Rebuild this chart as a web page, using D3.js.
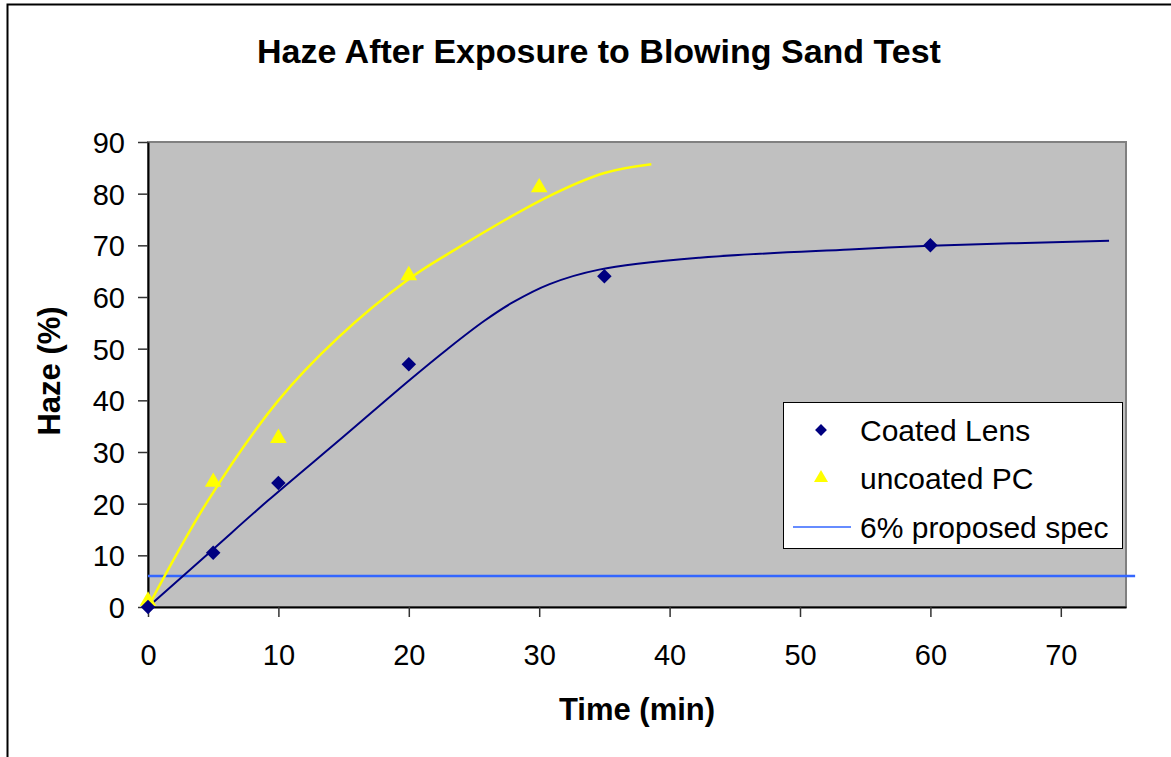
<!DOCTYPE html>
<html>
<head>
<meta charset="utf-8">
<script src="https://cdn.jsdelivr.net/npm/d3@7"></script>
<style>
  html, body { margin: 0; padding: 0; background: #fff; overflow: hidden; }
  svg { display: block; font-family: "Liberation Sans", Arial, sans-serif; }
</style>
</head>
<body>
<div id="chart"></div>
<script>
// measured points
const coatedTime = [0, 5, 10, 20, 35, 60];
const coatedHaze = [0, 10.5, 24, 47, 64, 70];
const uncoatedTime = [0, 5, 10, 20, 30];
const uncoatedHaze = [1, 24, 32.5, 64, 81];

// trend curves
const coatedTrendTime = [0, 5, 9.2, 15, 20, 23, 25.8, 28, 30.8, 34.6, 42.3, 53.8, 60, 73.7];
const coatedTrendHaze = [0, 11.2, 20.6, 33, 43.8, 50, 55.4, 59, 62.5, 65.3, 67.6, 69.2, 69.9, 70.9];
const uncoatedTrendTime = [0, 4.6, 10, 14.6, 19.9, 23.1, 30.5, 35, 38.6];
const uncoatedTrendHaze = [0, 20.6, 40, 52.2, 63.3, 68.5, 79.2, 84, 85.7];

const specTime = [0, 75.7];
const specHaze = [6, 6];

const xTicks = [0, 10, 20, 30, 40, 50, 60, 70];
const yTicks = [0, 10, 20, 30, 40, 50, 60, 70, 80, 90];

const legendLabels = ['Coated Lens', 'uncoated PC', '6% proposed spec'];

const W = 1171, H = 757;
const margin = {top: 142, right: 45, bottom: 150, left: 148};
const plotW = 1126 - margin.left;
const plotH = 607 - margin.top;

const navy = '#000080', yellow = '#FFFF00', specBlue = '#3366FF';

const svg = d3.select('#chart')
  .append('svg')
  .attr('width', W)
  .attr('height', H);

// outer chart frame
svg.append('rect')
  .attr('x', 7.5).attr('y', 4.5)
  .attr('width', W + 20).attr('height', H + 20)
  .attr('fill', '#fff')
  .attr('stroke', '#000')
  .attr('stroke-width', 2);

svg.append('text')
  .attr('x', 599).attr('y', 63)
  .attr('text-anchor', 'middle')
  .attr('font-weight', 'bold')
  .attr('font-size', 34)
  .text('Haze After Exposure to Blowing Sand Test');

const g = svg.append('g')
  .attr('transform', `translate(${margin.left},${margin.top})`);

const x = d3.scaleLinear().domain([0, 75]).range([0, plotW]);
const y = d3.scaleLinear().domain([0, 90]).range([plotH, 0]);

// plot area
g.append('rect')
  .attr('width', plotW).attr('height', plotH)
  .attr('fill', '#C0C0C0')
  .attr('stroke', '#808080')
  .attr('stroke-width', 2);

// axes
const xAxis = g.append('g')
  .attr('transform', `translate(0,${plotH})`)
  .call(d3.axisBottom(x).tickValues(xTicks).tickSize(10).tickSizeOuter(0));
const yAxis = g.append('g')
  .call(d3.axisLeft(y).tickValues(yTicks).tickSize(10).tickSizeOuter(0));

[xAxis, yAxis].forEach(a => {
  a.select('.domain').attr('stroke', '#000').attr('stroke-width', 2);
  a.selectAll('.tick line').attr('stroke', '#333').attr('stroke-width', 1.5);
  a.selectAll('.tick text')
    .attr('font-family', '"Liberation Sans", Arial, sans-serif')
    .attr('font-size', 29)
    .attr('fill', '#000');
});
yAxis.selectAll('.tick text').attr('x', -23).attr('dy', '0.36em');
xAxis.selectAll('.tick text').attr('y', 58).attr('dy', 0);

svg.append('text')
  .attr('x', 637).attr('y', 720)
  .attr('text-anchor', 'middle')
  .attr('font-weight', 'bold')
  .attr('font-size', 31)
  .text('Time (min)');

svg.append('text')
  .attr('transform', 'translate(60,371) rotate(-90)')
  .attr('text-anchor', 'middle')
  .attr('font-weight', 'bold')
  .attr('font-size', 31)
  .text('Haze (%)');

const line = d3.line()
  .x(d => x(d[0]))
  .y(d => y(d[1]))
  .curve(d3.curveCatmullRom.alpha(0.5));

const zip = (a, b) => a.map((v, i) => [v, b[i]]);

// spec line
g.append('path')
  .datum(zip(specTime, specHaze))
  .attr('fill', 'none')
  .attr('stroke', specBlue)
  .attr('stroke-width', 2.5)
  .attr('d', d3.line().x(d => x(d[0])).y(d => y(d[1])));

// trend curves
g.append('path')
  .datum(zip(coatedTrendTime, coatedTrendHaze))
  .attr('fill', 'none')
  .attr('stroke', navy)
  .attr('stroke-width', 2)
  .attr('d', line);

g.append('path')
  .datum(zip(uncoatedTrendTime, uncoatedTrendHaze))
  .attr('fill', 'none')
  .attr('stroke', yellow)
  .attr('stroke-width', 2.5)
  .attr('d', line);

const diamond = d3.symbol().type(d3.symbolSquare).size(105);
const triangle = d3.symbol().type(d3.symbolTriangle).size(120);

g.append('g').selectAll('path')
  .data(zip(uncoatedTime, uncoatedHaze))
  .join('path')
  .attr('d', triangle)
  .attr('fill', yellow)
  .attr('transform', d => `translate(${x(d[0])},${y(d[1]) - 1})`);

g.append('g').selectAll('path')
  .data(zip(coatedTime, coatedHaze))
  .join('path')
  .attr('d', diamond)
  .attr('fill', navy)
  .attr('transform', d => `translate(${x(d[0])},${y(d[1])}) rotate(45)`);

// legend
const lg = svg.append('g').attr('transform', 'translate(783,402)');
lg.append('rect')
  .attr('x', 0.5).attr('y', 0.5)
  .attr('width', 339).attr('height', 146)
  .attr('fill', '#fff')
  .attr('stroke', '#000')
  .attr('stroke-width', 1);

const rowY = [28, 76, 125];
lg.append('path')
  .attr('d', d3.symbol().type(d3.symbolSquare).size(70))
  .attr('fill', navy)
  .attr('transform', `translate(38,${rowY[0]}) rotate(45)`);
lg.append('path')
  .attr('d', d3.symbol().type(d3.symbolTriangle).size(85))
  .attr('fill', yellow)
  .attr('transform', `translate(38,${rowY[1]})`);
lg.append('line')
  .attr('x1', 10).attr('x2', 68)
  .attr('y1', rowY[2]).attr('y2', rowY[2])
  .attr('stroke', specBlue)
  .attr('stroke-width', 1.5);

lg.selectAll('text.lbl')
  .data(legendLabels)
  .join('text')
  .attr('class', 'lbl')
  .attr('x', 77)
  .attr('y', (d, i) => rowY[i])
  .attr('dy', '0.36em')
  .attr('font-size', 30)
  .text(d => d);
</script>
</body>
</html>
